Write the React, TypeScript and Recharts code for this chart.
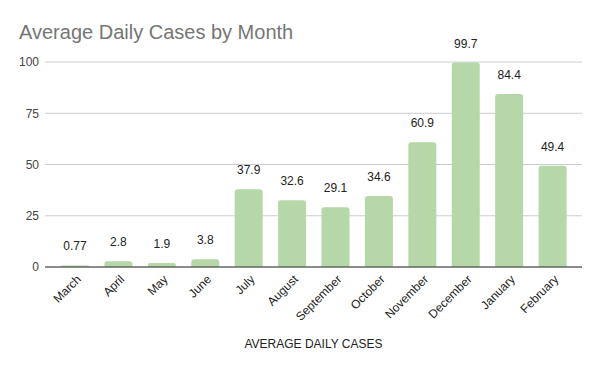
import { Bar, BarChart, CartesianGrid, LabelList, XAxis, YAxis } from 'recharts'

const months = ['March', 'April', 'May', 'June', 'July', 'August', 'September', 'October', 'November', 'December', 'January', 'February']
const cases = [0.77, 2.8, 1.9, 3.8, 37.9, 32.6, 29.1, 34.6, 60.9, 99.7, 84.4, 49.4]
const yTicks = [0, 25, 50, 75, 100]

const data = months.map((month, i) => ({ month, cases: cases[i] }))

const font = '"Liberation Sans", Arial, sans-serif'

const MonthTick = ({ x, y, payload }: any) => (
  <g transform={`translate(${x + 7},${y + 5})`}>
    <text transform="rotate(-45)" textAnchor="end" fontSize={12} fill="#222" fontFamily={font}>
      {payload.value}
    </text>
  </g>
)

export default function App() {
  return (
    <div style={{ position: 'absolute', left: 0, top: 0, width: 600, height: 371, background: '#fff' }}>
      <svg width={600} height={371} style={{ position: 'absolute', left: 0, top: 0 }}>
        <text x={19} y={39} fontSize={20} fill="#757575" fontFamily={font}>
          Average Daily Cases by Month
        </text>
      </svg>
      <BarChart
        width={600}
        height={371}
        data={data}
        margin={{ top: 62, right: 18, bottom: 0, left: 0 }}
        style={{ position: 'absolute', left: 0, top: 0, fontFamily: font }}
      >
        <CartesianGrid vertical={false} stroke="#ccc" />
        <XAxis
          dataKey="month"
          height={104}
          interval={0}
          padding={{ left: 8, right: 8 }}
          tickLine={false}
          axisLine={{ stroke: '#333' }}
          tick={<MonthTick />}
          label={{ value: 'AVERAGE DAILY CASES', position: 'insideBottom', offset: 23, fontSize: 12, fill: '#222' }}
        />
        <YAxis
          width={45}
          domain={[0, 100]}
          ticks={yTicks}
          tickLine={false}
          axisLine={false}
          tickSize={0}
          tickMargin={6}
          tick={{ fontSize: 12, fill: '#444' }}
        />
        <Bar dataKey="cases" fill="#b6d7a8" barSize={28} radius={[3, 3, 0, 0]} isAnimationActive={false}>
          <LabelList dataKey="cases" position="top" offset={15} fontSize={12} fill="#222" />
        </Bar>
      </BarChart>
    </div>
  )
}
